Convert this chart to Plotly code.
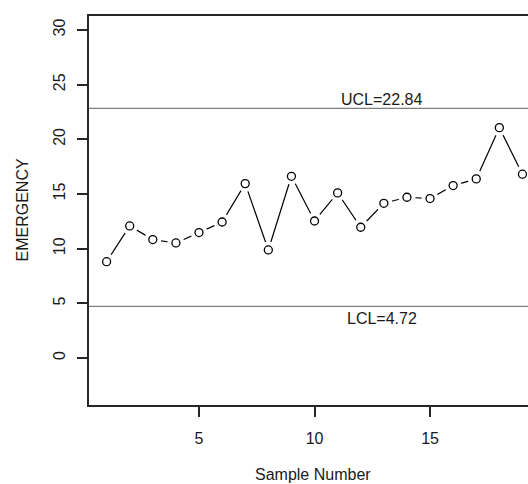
import plotly.graph_objects as go

samples = list(range(1, 20))
emergency = [8.81, 12.08, 10.83, 10.52, 11.47, 12.44, 15.95, 9.88, 16.62, 12.53,
             15.10, 11.96, 14.15, 14.70, 14.58, 15.77, 16.38, 21.07, 16.81]
ucl = 22.84
lcl = 4.72
x_ticks = [5, 10, 15]
y_ticks = [0, 5, 10, 15, 20, 25, 30]

FONT = "Liberation Sans, Arial, sans-serif"
TXT = "#1a1a1a"
AX = "#262626"

fig = go.Figure()

# control limits
for val in (ucl, lcl):
    fig.add_hline(y=val, line=dict(color="#7f7f7f", width=1.2), layer="below")

# connecting line
fig.add_trace(go.Scatter(x=samples, y=emergency, mode="lines",
                         line=dict(color="black", width=1.2),
                         hoverinfo="skip", showlegend=False))
# white masks to create R type="b" gaps
fig.add_trace(go.Scatter(x=samples, y=emergency, mode="markers",
                         marker=dict(symbol="circle", size=17, color="white",
                                     line=dict(width=0)),
                         hoverinfo="skip", showlegend=False))
# open circles
fig.add_trace(go.Scatter(x=samples, y=emergency, mode="markers",
                         marker=dict(symbol="circle-open", size=8, color="black",
                                     line=dict(width=1.3)),
                         showlegend=False))

fig.add_annotation(x=12.92, y=ucl, text="UCL=" + f"{ucl:.2f}", showarrow=False,
                   yanchor="bottom", yshift=-2, font=dict(family=FONT, size=16, color=TXT))
fig.add_annotation(x=12.92, y=lcl, text="LCL=" + f"{lcl:.2f}", showarrow=False,
                   yanchor="top", yshift=-2, font=dict(family=FONT, size=16, color=TXT))

# axis titles
fig.add_annotation(xref="paper", yref="paper", x=0.51, y=0, yshift=-69,
                   text="Sample Number", showarrow=False, yanchor="middle",
                   font=dict(family=FONT, size=16, color=TXT))
fig.add_annotation(xref="paper", yref="paper", x=0, xshift=-67, y=0.5,
                   text="EMERGENCY", showarrow=False, textangle=-90, xanchor="center",
                   font=dict(family=FONT, size=16, color=TXT))

fig.update_layout(
    width=528, height=484,
    margin=dict(l=89, r=0, t=16, b=79),
    paper_bgcolor="white", plot_bgcolor="white",
    font=dict(family=FONT, size=16, color=TXT),
    xaxis=dict(range=[0.238, 19.24], tickvals=x_ticks, ticks="outside", ticklen=10,
               tickwidth=1.5, tickcolor=AX, showline=True, linecolor=AX, linewidth=1.5,
               mirror=True, showgrid=False, zeroline=False, ticklabelstandoff=8,
               tickfont=dict(family=FONT, size=16, color=TXT)),
    yaxis=dict(range=[-4.30, 31.28], tickvals=y_ticks, ticks="outside", ticklen=10,
               tickwidth=1.5, tickcolor=AX, showline=True, linecolor=AX, linewidth=1.5,
               mirror=False, showgrid=False, zeroline=False, tickangle=-90,
               ticklabelstandoff=6, tickfont=dict(family=FONT, size=16, color=TXT)),
)

fig.write_html("out.html")
